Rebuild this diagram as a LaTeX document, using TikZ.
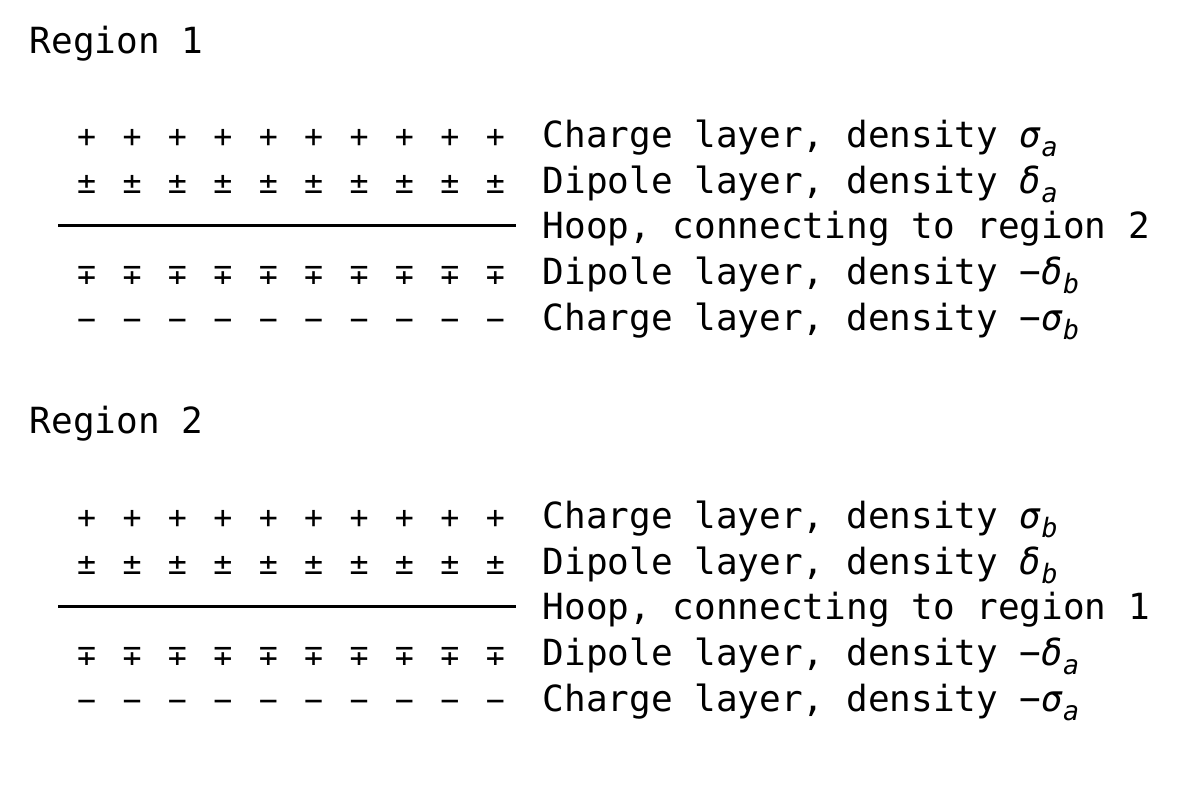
\documentclass[tikz,border=0pt]{standalone}
\usepackage{fontspec}
\setmainfont{DejaVu Sans Mono}
\newfontfamily\signfamily{DejaVu Sans Mono}
\newcommand{\gk}[2]{{\itshape #1\raisebox{-0.45ex}{\fontsize{7.6pt}{8pt}\selectfont #2}}}

\begin{document}
\begin{tikzpicture}[lbl/.style={anchor=base west,inner sep=0pt,font=\fontsize{10.25pt}{12pt}\selectfont},
    sgn/.style={anchor=base,inner sep=0pt,font=\signfamily\fontsize{9pt}{10pt}\selectfont}]
            \useasboundingbox (0,0) rectangle (12,8);
            % region 1
            \node[lbl] (reg1) at (0.29,7.465) {Region 1};
            \node[lbl] (qa1) at (5.42,6.522) {Charge layer, density \gk{σ}{a}};
            \node[lbl] (da1) at (5.42,6.066) {Dipole layer, density \gk{δ}{a}};
            \node[lbl] (hp1) at (5.42,5.610) {Hoop, connecting to region 2};
            \node[lbl] (db1) at (5.42,5.154) {Dipole layer, density −\gk{δ}{b}};
            \node[lbl] (qb1) at (5.42,4.698) {Charge layer, density −\gk{σ}{b}};
            \coordinate (h1l) at (0.58,5.745);
            \coordinate (h1r) at (5.16,5.745);
            \draw[line width=0.65pt] (h1l)--(h1r);
            \foreach \i in {0,...,9} {
                \node[sgn] (pa\i) at ({0.867+0.454*\i},6.522) {+};
                \node[sgn] (pma\i) at ({0.867+0.454*\i},6.066) {±};
                \node[sgn] (mpb\i) at ({0.867+0.454*\i},5.154) {∓};
                \node[sgn] (mb\i) at ({0.867+0.454*\i},4.698) {−};
            }
            % region 2
            \node[lbl] (reg2) at (0.29,3.665) {Region 2};
            \node[lbl] (qb2) at (5.42,2.712) {Charge layer, density \gk{σ}{b}};
            \node[lbl] (db2) at (5.42,2.256) {Dipole layer, density \gk{δ}{b}};
            \node[lbl] (hp2) at (5.42,1.800) {Hoop, connecting to region 1};
            \node[lbl] (da2) at (5.42,1.344) {Dipole layer, density −\gk{δ}{a}};
            \node[lbl] (qa2) at (5.42,0.888) {Charge layer, density −\gk{σ}{a}};
            \coordinate (h2l) at (0.58,1.935);
            \coordinate (h2r) at (5.16,1.935);
            \draw[line width=0.65pt] (h2l)--(h2r);
            \foreach \i in {0,...,9} {
                \node[sgn] (pb\i) at ({0.867+0.454*\i},2.712) {+};
                \node[sgn] (pmb\i) at ({0.867+0.454*\i},2.256) {±};
                \node[sgn] (mpa\i) at ({0.867+0.454*\i},1.344) {∓};
                \node[sgn] (ma\i) at ({0.867+0.454*\i},0.888) {−};
            }
        \end{tikzpicture}
\end{document}
